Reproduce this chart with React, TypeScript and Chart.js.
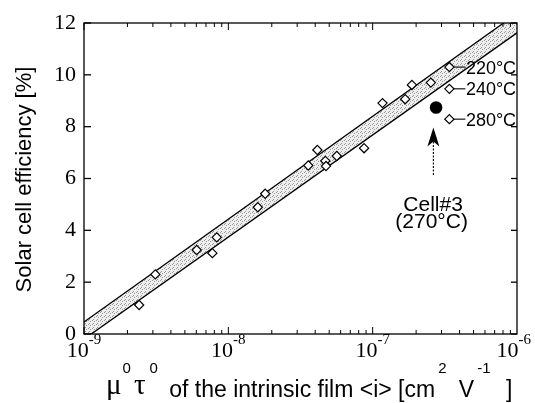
import React, { useEffect, useRef } from "react";
import { Chart, registerables } from "chart.js";

Chart.register(...registerables);

// mu0*tau0 of the intrinsic film [cm^2 V^-1]
const mobilityLifetime = [
  2.41e-9, 3.12e-9, 6.04e-9, 7.75e-9, 8.31e-9, 1.6e-8, 1.8e-8, 3.58e-8, 4.14e-8,
  4.7e-8, 4.75e-8, 5.64e-8, 8.72e-8, 1.17e-7, 1.68e-7, 1.87e-7, 2.53e-7,
  3.4e-7, 3.4e-7, 3.4e-7,
];
// Solar cell efficiency [%]
const efficiency = [
  1.12, 2.3, 3.24, 3.12, 3.73, 4.89, 5.41, 6.5, 7.1, 6.68, 6.48, 6.87, 7.17,
  8.91, 9.06, 9.61, 9.7, 10.3, 9.46, 8.29,
];
// labels of the last three points
const tempLabels = ["220°C", "240°C", "280°C"];
// Cell#3
const cell3X = [2.75e-7];
const cell3Y = [8.74];
const cell3Label = ["Cell#3", "(270°C)"];
// band
const bandX = [1e-9, 1e-6];
const bandUpper = [0.46, 12.37];
const bandLower = [-0.2, 11.62];
// axes
const yTicks = [0, 2, 4, 6, 8, 10, 12];
const xDecades = [-9, -8, -7, -6];
const yTitle = "Solar cell efficiency [%]";

function makeStipple(): CanvasPattern | string {
  const c = document.createElement("canvas");
  c.width = 4;
  c.height = 4;
  const g = c.getContext("2d");
  if (!g) return "#d8d8d8";
  g.fillStyle = "#eeeeee";
  g.fillRect(0, 0, 4, 4);
  g.fillStyle = "#9a9a9a";
  g.fillRect(0, 0, 1, 1);
  g.fillRect(2, 1, 1, 1);
  g.fillRect(1, 3, 1, 1);
  return g.createPattern(c, "repeat") || "#d8d8d8";
}

const SANS = '"Liberation Sans", Arial, sans-serif';
const SERIF = '"Liberation Serif", "Times New Roman", serif';

const decorPlugin = {
  id: "decor",
  afterDraw(chart: any) {
    const ctx: CanvasRenderingContext2D = chart.ctx;
    const xs = chart.scales.x;
    const ys = chart.scales.y;
    const a = chart.chartArea;
    ctx.save();
    ctx.strokeStyle = "#000";
    ctx.fillStyle = "#000";
    ctx.lineWidth = 1.3;
    const line = (x1: number, y1: number, x2: number, y2: number) => {
      ctx.beginPath();
      ctx.moveTo(x1, y1);
      ctx.lineTo(x2, y2);
      ctx.stroke();
    };
    // frame
    ctx.strokeRect(a.left, a.top, a.right - a.left, a.bottom - a.top);
    // y ticks
    yTicks.forEach((v) => {
      const py = ys.getPixelForValue(v);
      line(a.left, py, a.left + 7, py);
      line(a.right, py, a.right - 6, py);
    });
    // x ticks
    ctx.lineWidth = 1;
    for (let d = xDecades[0]; d < xDecades[xDecades.length - 1]; d++) {
      for (let k = 1; k <= 9; k++) {
        const px = xs.getPixelForValue(k * Math.pow(10, d));
        const len = k === 1 ? 7 : 4;
        line(px, a.bottom, px, a.bottom - len);
        line(px, a.top, px, a.top + len);
      }
    }
    // y labels
    ctx.font = "22px " + SERIF;
    ctx.textAlign = "right";
    ctx.textBaseline = "middle";
    yTicks.forEach((v) => {
      ctx.fillText(String(v), a.left - 8, ys.getPixelForValue(v));
    });
    // x labels
    ctx.textAlign = "left";
    ctx.textBaseline = "alphabetic";
    xDecades.forEach((d) => {
      const px = xs.getPixelForValue(Math.pow(10, d));
      ctx.font = "22px " + SERIF;
      const w1 = ctx.measureText("10").width;
      ctx.font = "15px " + SERIF;
      const sup = String(d);
      const w2 = ctx.measureText(sup).width;
      let start = px - (w1 + w2) / 2;
      if (start + w1 + w2 > 531) start = 531 - w1 - w2;
      ctx.font = "22px " + SERIF;
      ctx.fillText("10", start, a.bottom + 23);
      ctx.font = "15px " + SERIF;
      ctx.fillText(sup, start + w1, a.bottom + 10);
    });
    // x title
    let x = 106;
    const base = a.bottom + 63;
    const supBase = a.bottom + 39;
    const piece = (t: string, font: string, y: number, gap: number) => {
      ctx.font = font;
      ctx.fillText(t, x, y);
      x += ctx.measureText(t).width + gap;
    };
    piece("μ", "29px " + SERIF, base - 3, 1);
    piece("0", "15px " + SANS, supBase, 3);
    piece("τ", "29px " + SERIF, base - 3, 4);
    piece("0", "15px " + SANS, supBase, 5);
    piece(" of the intrinsic film <i> [cm", "23px " + SANS, base, 3);
    piece("2", "15px " + SANS, supBase, 6);
    piece(" V", "23px " + SANS, base, 3);
    piece("-1", "15px " + SANS, supBase, 9);
    piece(" ]", "23px " + SANS, base, 0);
    // y title
    ctx.save();
    ctx.translate(31, (a.top + a.bottom) / 2 + 1);
    ctx.rotate(-Math.PI / 2);
    ctx.textAlign = "center";
    ctx.font = "22px " + SANS;
    ctx.fillText(yTitle, 0, 0);
    ctx.restore();
    // temperature labels
    ctx.font = "18px " + SANS;
    ctx.textAlign = "left";
    ctx.lineWidth = 1.1;
    const n = mobilityLifetime.length;
    tempLabels.forEach((t, i) => {
      const idx = n - tempLabels.length + i;
      const px = xs.getPixelForValue(mobilityLifetime[idx]);
      const py = ys.getPixelForValue(efficiency[idx]);
      line(px + 4.6, py, px + 16, py);
      ctx.fillText(t, px + 16.5, py + 6.5);
    });
    // Cell#3 annotation
    const cx = xs.getPixelForValue(cell3X[0]);
    const cy = ys.getPixelForValue(cell3Y[0]);
    const ax = cx - 2.7;
    ctx.beginPath();
    ctx.moveTo(ax, cy + 20);
    ctx.lineTo(ax - 6, cy + 39);
    ctx.lineTo(ax, cy + 34);
    ctx.lineTo(ax + 6, cy + 39);
    ctx.closePath();
    ctx.fill();
    ctx.lineWidth = 1.1;
    ctx.setLineDash([2, 1.5]);
    line(ax, cy + 34, ax, cy + 68);
    ctx.setLineDash([]);
    ctx.font = "21px " + SANS;
    ctx.textAlign = "center";
    ctx.fillText(cell3Label[0], cx - 3, cy + 104);
    ctx.fillText(cell3Label[1], cx - 4.5, cy + 121);
    ctx.restore();
  },
};

export default function App() {
  const ref = useRef<HTMLCanvasElement>(null);
  useEffect(() => {
    if (!ref.current) return;
    const stipple = makeStipple();
    const chart = new Chart(ref.current, {
      type: "scatter",
      data: {
        datasets: [
          {
            label: "cells",
            data: mobilityLifetime.map((v, i) => ({ x: v, y: efficiency[i] })),
            pointStyle: "rectRot",
            pointRadius: 4.6,
            pointBorderWidth: 1.2,
            pointBackgroundColor: "#fff",
            pointBorderColor: "#000",
            showLine: false,
          },
          {
            label: "Cell#3",
            data: cell3X.map((v, i) => ({ x: v, y: cell3Y[i] })),
            pointStyle: "circle",
            pointRadius: 6.3,
            pointBorderWidth: 0,
            pointBackgroundColor: "#000",
            pointBorderColor: "#000",
            showLine: false,
          },
          {
            label: "lower",
            data: bandX.map((v, i) => ({ x: v, y: bandLower[i] })),
            showLine: true,
            pointRadius: 0,
            borderColor: "#000",
            borderWidth: 1.3,
            fill: false,
          },
          {
            label: "upper",
            data: bandX.map((v, i) => ({ x: v, y: bandUpper[i] })),
            showLine: true,
            pointRadius: 0,
            borderColor: "#000",
            borderWidth: 1.3,
            backgroundColor: stipple as any,
            fill: "-1",
          },
        ],
      },
      options: {
        animation: false,
        responsive: false,
        devicePixelRatio: 1,
        layout: { padding: { left: 84, right: 18, top: 23, bottom: 69 } },
        plugins: { legend: { display: false }, tooltip: { enabled: false } },
        scales: {
          x: { type: "logarithmic", min: 1e-9, max: 1e-6, display: false },
          y: { type: "linear", min: 0, max: 12, display: false },
        },
      },
      plugins: [decorPlugin],
    });
    return () => chart.destroy();
  }, []);
  return (
    <div style={{ position: "fixed", left: 0, top: 0, width: 535, height: 403, background: "#fff" }}>
      <canvas ref={ref} width={535} height={403} style={{ display: "block" }} />
    </div>
  );
}
